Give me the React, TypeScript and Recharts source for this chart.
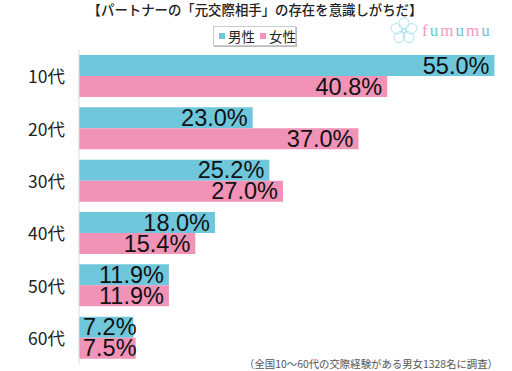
import { Bar, BarChart, LabelList, XAxis, YAxis } from "recharts";

const ages = ["10代", "20代", "30代", "40代", "50代", "60代"];
const male = [55.0, 23.0, 25.2, 18.0, 11.9, 7.2];
const female = [40.8, 37.0, 27.0, 15.4, 11.9, 7.5];
const logoLetters = ["f", "u", "m", "u", "m", "u"];
const logoColors = ["#f29ac0", "#6cc6dc", "#f29ac0", "#6cc6dc", "#f29ac0", "#6cc6dc"];
const petalAngles = [0, 72, 144, 216, 288];

const data = ages.map((age, i) => ({ age, male: male[i], female: female[i] }));
const font = "'Noto Sans CJK JP', sans-serif";
const labelSize = 23.5;

// label hugs the end of the bar, but short bars push it out past the end
const BarValue = (props: any) => {
  const { x, y, width, height, value } = props;
  const text = Number(value).toFixed(1) + "%";
  const textWidth = (text.length - 2) * 0.556 * labelSize + 0.278 * labelSize + 0.889 * labelSize;
  const right = Math.max(x + width - 5, x + 4 + textWidth);
  return (
    <text x={right} y={y + height / 2 + 8} textAnchor="end" fontSize={labelSize} fill="#111" fontFamily="'Liberation Sans', sans-serif">
      {text}
    </text>
  );
};

const App = () => {
  return (
    <div style={{ position: "absolute", left: 0, top: 0, width: 512, height: 371, fontFamily: font, background: "#fff", overflow: "hidden" }}>
      <div style={{ position: "absolute", left: 0, width: 510, top: -1, textAlign: "center", fontSize: 13.4, fontWeight: 500, color: "#222", whiteSpace: "nowrap" }}>【パートナーの「元交際相手」の存在を意識しがちだ】</div>
      <div style={{ position: "absolute", left: 213, top: 26, width: 81, height: 18, background: "#fff", border: "1px solid #ccc", boxShadow: "1px 1px 0 #bbb", fontSize: 13.5, color: "#222", lineHeight: "18px", whiteSpace: "nowrap" }}>
        <span style={{ position: "absolute", left: 5, top: 6, width: 6, height: 6, background: "#6fc7dc" }} />
        <span style={{ position: "absolute", left: 14, top: 0 }}>男性</span>
        <span style={{ position: "absolute", left: 46, top: 6, width: 6, height: 6, background: "#f192b7" }} />
        <span style={{ position: "absolute", left: 55, top: 0 }}>女性</span>
      </div>
      <svg style={{ position: "absolute", left: 390, top: 17 }} width={28} height={28} viewBox="-14 -14 28 28">
        {petalAngles.map((a) => (
          <ellipse key={a} cx={0} cy={-7.5} rx={5} ry={6} fill="none" stroke="#a5deeb" strokeWidth={0.8} transform={`rotate(${a})`} />
        ))}
        <circle r={2.5} fill="none" stroke="#a5deeb" strokeWidth={0.8} />
      </svg>
      <div style={{ position: "absolute", left: 422, top: 20, fontSize: 17, lineHeight: "22px", fontFamily: "'Liberation Serif', serif", letterSpacing: 2, whiteSpace: "nowrap" }}>
        {logoLetters.map((c, i) => <span key={i} style={{ color: logoColors[i] }}>{c}</span>)}
      </div>
      <div style={{ position: "absolute", right: 14, top: 357, fontSize: 10.4, lineHeight: "14px", color: "#555", whiteSpace: "nowrap" }}>（全国10～60代の交際経験がある男女1328名に調査）</div>
      <div style={{ position: "absolute", left: 0, top: 50 }}>
        <BarChart width={512} height={314} data={data} layout="vertical" margin={{ top: 0, right: 10, bottom: 0, left: 0 }} barCategoryGap={5} barGap={0}>
          <XAxis type="number" hide domain={[0, 56]} />
          <YAxis type="category" dataKey="age" width={79} axisLine={{ stroke: "#ddd" }} tickLine={false} tickMargin={8} tick={{ fill: "#222", fontSize: 17.5, fontFamily: font, dy: 1 }} />
          <Bar dataKey="male" fill="#6fc7dc" isAnimationActive={false}>
            <LabelList dataKey="male" content={BarValue} />
          </Bar>
          <Bar dataKey="female" fill="#f192b7" isAnimationActive={false}>
            <LabelList dataKey="female" content={BarValue} />
          </Bar>
        </BarChart>
      </div>
    </div>
  );
};

export default App;
